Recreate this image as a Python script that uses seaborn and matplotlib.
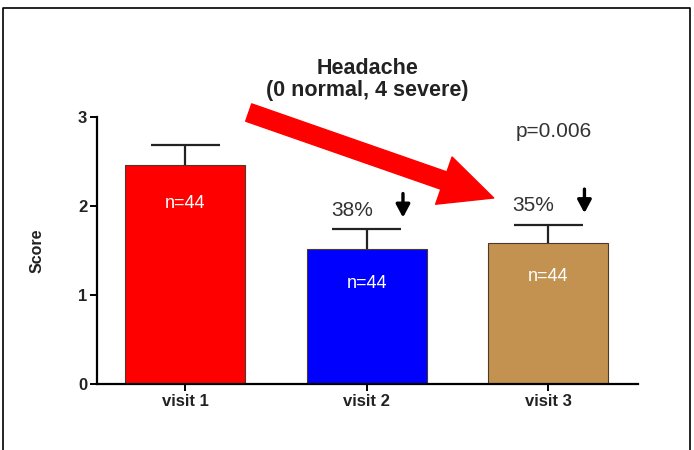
import matplotlib
matplotlib.use("Agg")
import matplotlib.pyplot as plt
import seaborn as sns
import pandas as pd
import numpy as np
from matplotlib.lines import Line2D

# data
visits = ["visit 1", "visit 2", "visit 3"]
means = [2.46, 1.52, 1.58]
sem = [0.23, 0.22, 0.21]
n_labels = ["n=44", "n=44", "n=44"]
n_label_y = [2.03, 1.13, 1.21]
bar_colors = ["#FF0000", "#0000FF", "#C39250"]
drop_labels = ["38%", "35%"]

sns.set_style("white")
plt.rcParams["font.family"] = ["Liberation Sans", "DejaVu Sans"]

df = pd.DataFrame({"visit": visits, "score": means})

fig = plt.figure(figsize=(6.94, 4.5), dpi=100)
ax = fig.add_axes([0.1398, 0.1467, 0.78, 0.5933])

sns.barplot(data=df, x="visit", y="score", hue="visit", palette=bar_colors,
            saturation=1, legend=False, width=0.66, edgecolor="#4a3a2a",
            linewidth=0.8, ax=ax)

# upper error bars only (SEM)
xs = np.arange(len(visits))
tops = np.array(means) + np.array(sem)
ax.vlines(xs, means, tops, color="#222222", lw=1.6, zorder=1)
ax.hlines(tops, xs - 0.19, xs + 0.19, color="#222222", lw=1.6, zorder=1)

for i, (lab, yy) in enumerate(zip(n_labels, n_label_y)):
    ax.text(i, yy, lab, color="white", fontsize=13, ha="center", va="center")

# percent drops with small down arrows
for i, lab in zip([1, 2], drop_labels):
    top = means[i] + sem[i]
    ax.text(i - 0.08, top + 0.21, lab, fontsize=15, color="#333333",
            ha="center", va="center")
    ax.annotate("", xy=(i + 0.2, top + 0.13), xytext=(i + 0.2, top + 0.40),
                arrowprops=dict(arrowstyle="-|>,head_length=0.6,head_width=0.32",
                                color="black", lw=2.4, shrinkA=0, shrinkB=0,
                                mutation_scale=13))

ax.text(2.03, 2.84, "p=0.006", fontsize=15, color="#333333", ha="center", va="center")

# big red arrow
ax.annotate("", xy=(1.70, 2.09), xytext=(0.35, 3.05),
            arrowprops=dict(arrowstyle="simple,head_length=0.95,head_width=0.9,tail_width=0.33",
                            color="red", shrinkA=0, shrinkB=0, mutation_scale=40),
            annotation_clip=False)

ax.set_xlim(-0.486, 2.497)
ax.set_ylim(0, 3)
ax.set_yticks([0, 1, 2, 3])
ax.set_title("Headache\n(0 normal, 4 severe)", fontsize=15.5, fontweight="bold",
             pad=15, linespacing=1.05, color="#222222")
ax.set_xlabel("")
ax.set_ylabel("Score", fontsize=11.5, fontweight="bold", labelpad=24, color="#222222")

sns.despine(ax=ax)
for side in ["left", "bottom"]:
    ax.spines[side].set_linewidth(1.6)
    ax.spines[side].set_color("black")
ax.tick_params(axis="both", direction="out", length=5, width=1.4, color="black",
               labelsize=12, labelcolor="#222222", bottom=True, left=True, pad=2)
for t in ax.get_xticklabels() + ax.get_yticklabels():
    t.set_fontweight("bold")

# frame around the figure (left, top, right)
fig.add_artist(Line2D([0.005, 0.005, 0.994, 0.994], [0.0, 0.982, 0.982, 0.0],
                      transform=fig.transFigure, color="black", lw=1.2))

fig.savefig("out.png", dpi=100)
